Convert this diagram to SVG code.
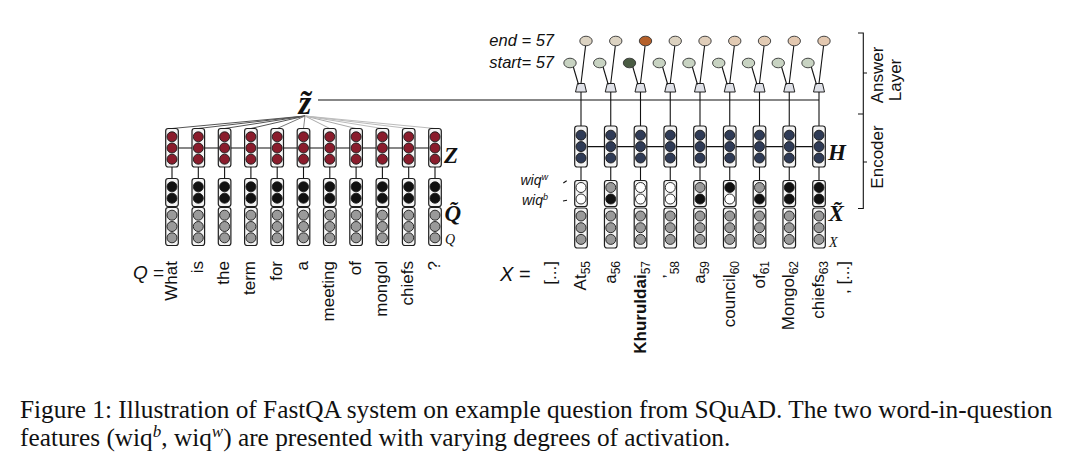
<svg xmlns="http://www.w3.org/2000/svg" xmlns:xlink="http://www.w3.org/1999/xlink" width="1080" height="462" viewBox="0 0 1080 462">
<style>
.box{fill:#f4f4f4;stroke:#1e1e1e;stroke-width:1.2}
.c{stroke:#1a1a1a;stroke-width:0.9}
.red{fill:#8a1c2c}
.blk{fill:#111}
.gry{fill:#9a9a9a}
.wht{fill:#fff}
.blu{fill:#2f3b56}
.ln{stroke:#111;stroke-width:1.1;fill:none}
.lbl{font-family:"Liberation Sans",Arial,sans-serif;font-size:17px;fill:#111}
.math{font-family:"Liberation Serif","Times New Roman",serif;font-style:italic;fill:#111}
.cap{font-family:"Liberation Serif","Times New Roman",serif;font-size:25.3px;fill:#111}
.trap{fill:#dfe1e8;stroke:#222;stroke-width:1}
.endo{stroke:#333;stroke-width:0.9}
</style>
<defs>
<g id="qstack">
<rect class="box" x="-6.3" y="128.5" width="12.6" height="38.5" rx="2.5"/>
<circle class="c red" cx="0" cy="136.8" r="5"/>
<circle class="c red" cx="0" cy="148" r="5"/>
<circle class="c red" cx="0" cy="159.2" r="5"/>
<line class="ln" x1="0" y1="167" x2="0" y2="178.5"/>
<rect class="box" x="-6.3" y="178.5" width="12.6" height="28" rx="2.5"/>
<circle class="c blk" cx="0" cy="186.8" r="5"/>
<circle class="c blk" cx="0" cy="198.2" r="5"/>
<rect class="box" x="-6.3" y="207.5" width="12.6" height="38" rx="2.5"/>
<circle class="c gry" cx="0" cy="215.2" r="5"/>
<circle class="c gry" cx="0" cy="226.5" r="5"/>
<circle class="c gry" cx="0" cy="237.8" r="5"/>
</g>
<g id="xstack">
<polygon class="trap" points="-3.5,83.5 3.5,83.5 5.5,92 -5.5,92"/>
<line class="ln" x1="0" y1="92" x2="0" y2="126"/>
<line class="ln" x1="0" y1="83.5" x2="4.6" y2="45.5"/>
<line class="ln" x1="-2.5" y1="84.5" x2="-7.8" y2="66.5"/>
<rect class="box" x="-6.3" y="126" width="12.6" height="41" rx="2.5"/>
<circle class="c blu" cx="0" cy="135.2" r="5"/>
<circle class="c blu" cx="0" cy="146.6" r="5"/>
<circle class="c blu" cx="0" cy="158" r="5"/>
<line class="ln" x1="0" y1="167" x2="0" y2="180.5"/>
<rect class="box" x="-6.3" y="180.5" width="12.6" height="26" rx="2.5"/>
<rect class="box" x="-6.3" y="208" width="12.6" height="40" rx="2.5"/>
<circle class="c gry" cx="0" cy="216" r="5"/>
<circle class="c gry" cx="0" cy="227.7" r="5"/>
<circle class="c gry" cx="0" cy="239.4" r="5"/>
</g>
</defs>
<rect width="1080" height="462" fill="#fff"/>

<g id="connectors">
<g stroke-width="1">
<line x1="305" y1="116" x2="172" y2="128.5" stroke="#555"/>
<line x1="305" y1="116" x2="198.3" y2="128.5" stroke="#555"/>
<line x1="305" y1="116" x2="224.6" y2="128.5" stroke="#555"/>
<line x1="305" y1="116" x2="250.9" y2="128.5" stroke="#555"/>
<line x1="305" y1="116" x2="277.2" y2="128.5" stroke="#777"/>
<line x1="305" y1="116" x2="303.5" y2="128.5" stroke="#888"/>
<line x1="305" y1="116" x2="329.8" y2="128.5" stroke="#aaa"/>
<line x1="305" y1="116" x2="356.1" y2="128.5" stroke="#aaa"/>
<line x1="305" y1="116" x2="382.4" y2="128.5" stroke="#bbb"/>
<line x1="305" y1="116" x2="408.7" y2="128.5" stroke="#bbb"/>
<line x1="305" y1="116" x2="435" y2="128.5" stroke="#bbb"/>
</g>
<line class="ln" x1="172" y1="148" x2="437" y2="148"/>
<line class="ln" x1="318" y1="100" x2="819" y2="100"/>
<line class="ln" x1="581" y1="146.6" x2="821" y2="146.6"/>
<line class="ln" x1="563.3" y1="183" x2="566.7" y2="180.7"/>
<line class="ln" x1="563" y1="201" x2="567" y2="200.3"/>
</g>

<g id="z-tilde"><text class="math" x="305" y="114" font-size="33" text-anchor="middle" font-weight="bold">z&#771;</text></g>

<g id="q-columns">
<use xlink:href="#qstack" x="172"/>
<use xlink:href="#qstack" x="198.3"/>
<use xlink:href="#qstack" x="224.6"/>
<use xlink:href="#qstack" x="250.9"/>
<use xlink:href="#qstack" x="277.2"/>
<use xlink:href="#qstack" x="303.5"/>
<use xlink:href="#qstack" x="329.8"/>
<use xlink:href="#qstack" x="356.1"/>
<use xlink:href="#qstack" x="382.4"/>
<use xlink:href="#qstack" x="408.7"/>
<use xlink:href="#qstack" x="435"/>
</g>

<g id="x-columns">
<use xlink:href="#xstack" x="581"/>
<use xlink:href="#xstack" x="610.75"/>
<use xlink:href="#xstack" x="640.5"/>
<use xlink:href="#xstack" x="670.25"/>
<use xlink:href="#xstack" x="700"/>
<use xlink:href="#xstack" x="729.75"/>
<use xlink:href="#xstack" x="759.5"/>
<use xlink:href="#xstack" x="789.25"/>
<use xlink:href="#xstack" x="819"/>
</g>

<g id="wiq-units">
<circle class="c wht" cx="581" cy="187.5" r="5"/><circle class="c wht" cx="581" cy="199" r="5"/>
<circle class="c gry" cx="610.75" cy="187.5" r="5"/><circle class="c blk" cx="610.75" cy="199" r="5"/>
<circle class="c wht" cx="640.5" cy="187.5" r="5"/><circle class="c wht" cx="640.5" cy="199" r="5"/>
<circle class="c wht" cx="670.25" cy="187.5" r="5"/><circle class="c wht" cx="670.25" cy="199" r="5"/>
<circle class="c gry" cx="700" cy="187.5" r="5"/><circle class="c blk" cx="700" cy="199" r="5"/>
<circle class="c blk" cx="729.75" cy="187.5" r="5"/><circle class="c wht" cx="729.75" cy="199" r="5"/>
<circle class="c gry" cx="759.5" cy="187.5" r="5"/><circle class="c blk" cx="759.5" cy="199" r="5"/>
<circle class="c blk" cx="789.25" cy="187.5" r="5"/><circle class="c blk" cx="789.25" cy="199" r="5"/>
<circle class="c blk" cx="819" cy="187.5" r="5"/><circle class="c blk" cx="819" cy="199" r="5"/>
</g>

<g id="start-end-outputs">
<ellipse class="endo" cx="586" cy="41" rx="6.2" ry="4.8" fill="#dcd3c2"/>
<ellipse class="endo" cx="615.75" cy="41" rx="6.2" ry="4.8" fill="#dcd3c2"/>
<ellipse class="endo" cx="645.5" cy="41" rx="6.2" ry="4.8" fill="#b5602a"/>
<ellipse class="endo" cx="675.25" cy="41" rx="6.2" ry="4.8" fill="#dcd2c0"/>
<ellipse class="endo" cx="705" cy="41" rx="6.2" ry="4.8" fill="#e0ceba"/>
<ellipse class="endo" cx="734.75" cy="41" rx="6.2" ry="4.8" fill="#e2cbb4"/>
<ellipse class="endo" cx="764.5" cy="41" rx="6.2" ry="4.8" fill="#e2cbb4"/>
<ellipse class="endo" cx="794.25" cy="41" rx="6.2" ry="4.8" fill="#e3c8b0"/>
<ellipse class="endo" cx="824" cy="41" rx="6.2" ry="4.8" fill="#e3c8b0"/>
<ellipse class="endo" cx="570" cy="63" rx="6.2" ry="4.8" fill="#c8d3c2"/>
<ellipse class="endo" cx="599.75" cy="63" rx="6.2" ry="4.8" fill="#c8d3c2"/>
<ellipse class="endo" cx="629.5" cy="63" rx="6.2" ry="4.8" fill="#4a5c43"/>
<ellipse class="endo" cx="659.25" cy="63" rx="6.2" ry="4.8" fill="#c8d3c2"/>
<ellipse class="endo" cx="689" cy="63" rx="6.2" ry="4.8" fill="#c8d3c2"/>
<ellipse class="endo" cx="718.75" cy="63" rx="6.2" ry="4.8" fill="#c8d3c2"/>
<ellipse class="endo" cx="748.5" cy="63" rx="6.2" ry="4.8" fill="#c8d3c2"/>
<ellipse class="endo" cx="778.25" cy="63" rx="6.2" ry="4.8" fill="#c8d3c2"/>
<ellipse class="endo" cx="808" cy="63" rx="6.2" ry="4.8" fill="#c8d3c2"/>
</g>

<g id="math-labels">
<text class="math" x="444" y="163" font-size="23" font-weight="bold">Z</text>
<text class="math" x="444.5" y="221" font-size="23" font-weight="bold">Q&#771;</text>
<text class="math" x="445" y="244" font-size="14">Q</text>
<text class="math" x="828" y="160" font-size="23" font-weight="bold">H</text>
<text class="math" x="828.5" y="221" font-size="23" font-weight="bold">X&#771;</text>
<text class="math" x="829" y="247" font-size="14">X</text>
</g>

<g id="left-labels" class="lbl">
<text x="133" y="279" font-size="19"><tspan font-style="italic">Q</tspan> =</text>
<text x="500" y="281" font-size="20"><tspan font-style="italic">X</tspan> =</text>
<text x="554" y="46" font-size="16.5" font-style="italic" text-anchor="end">end = 57</text>
<text x="554" y="68" font-size="16.5" font-style="italic" text-anchor="end">start= 57</text>
<text x="548" y="185" font-size="14" font-style="italic" text-anchor="end">wiq<tspan dy="-5" font-size="9">w</tspan></text>
<text x="548" y="205" font-size="14" font-style="italic" text-anchor="end">wiq<tspan dy="-5" font-size="9">b</tspan></text>
</g>

<g id="question-words" class="lbl" text-anchor="end">
<text transform="translate(176.5,261) rotate(-90)">What</text>
<text transform="translate(202.8,261) rotate(-90)">is</text>
<text transform="translate(229.1,261) rotate(-90)">the</text>
<text transform="translate(255.4,261) rotate(-90)">term</text>
<text transform="translate(281.7,261) rotate(-90)">for</text>
<text transform="translate(308,261) rotate(-90)">a</text>
<text transform="translate(334.3,261) rotate(-90)">meeting</text>
<text transform="translate(360.6,261) rotate(-90)">of</text>
<text transform="translate(386.9,261) rotate(-90)">mongol</text>
<text transform="translate(413.2,261) rotate(-90)">chiefs</text>
<text transform="translate(439.5,261) rotate(-90)">?</text>
</g>

<g id="context-words" class="lbl" text-anchor="end">
<text transform="translate(556.3,261) rotate(-90)">[...]</text>
<text transform="translate(586,261) rotate(-90)">At<tspan dy="4" font-size="12">55</tspan></text>
<text transform="translate(615.75,261) rotate(-90)">a<tspan dy="4" font-size="12">56</tspan></text>
<text transform="translate(645.5,261) rotate(-90)"><tspan font-weight="bold">Khuruldai</tspan><tspan dy="4" font-size="12">57</tspan></text>
<text transform="translate(675.25,261) rotate(-90)">’<tspan dy="4" font-size="12">58</tspan></text>
<text transform="translate(705,261) rotate(-90)">a<tspan dy="4" font-size="12">59</tspan></text>
<text transform="translate(734.75,261) rotate(-90)">council<tspan dy="4" font-size="12">60</tspan></text>
<text transform="translate(764.5,261) rotate(-90)">of<tspan dy="4" font-size="12">61</tspan></text>
<text transform="translate(794.25,261) rotate(-90)">Mongol<tspan dy="4" font-size="12">62</tspan></text>
<text transform="translate(824,261) rotate(-90)">chiefs<tspan dy="4" font-size="12">63</tspan></text>
<text transform="translate(849,261) rotate(-90)">, [...]</text>
</g>

<g id="layer-brackets">
<path class="ln" d="M858,33 H863.3 V208.5 H858 M858,114 H863.3 M863.3,73 H867 M863.3,162 H867"/>
<text class="lbl" font-size="16.5" text-anchor="middle" transform="translate(883,75) rotate(-90)">Answer</text>
<text class="lbl" font-size="16.5" text-anchor="middle" transform="translate(901,80) rotate(-90)">Layer</text>
<text class="lbl" font-size="16.5" text-anchor="middle" transform="translate(883,157) rotate(-90)">Encoder</text>
</g>

<g id="caption" class="cap">
<text x="20" y="418">Figure 1: Illustration of FastQA system on example question from SQuAD. The two word-in-question</text>
<text x="20" y="446">features (wiq<tspan dy="-9" font-size="17" font-style="italic">b</tspan><tspan dy="9">, wiq</tspan><tspan dy="-9" font-size="17" font-style="italic">w</tspan><tspan dy="9">) are presented with varying degrees of activation.</tspan></text>
</g>
</svg>
